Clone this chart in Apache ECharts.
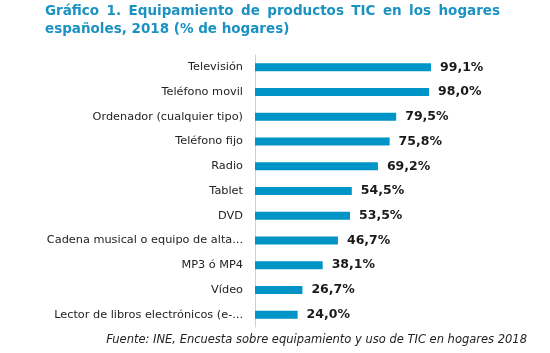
<!DOCTYPE html>
<html>
<head>
<meta charset="utf-8">
<script src="https://cdn.jsdelivr.net/npm/echarts@6/dist/echarts.min.js"></script>
<style>
html,body{margin:0;padding:0;background:#fff;}
#main{width:550px;height:353px;}
</style>
</head>
<body>
<div id="main"></div>
<script>
// datos
var categorias = ['Televisión', 'Teléfono movil', 'Ordenador (cualquier tipo)', 'Teléfono fijo', 'Radio',
    'Tablet', 'DVD', 'Cadena musical o equipo de alta...', 'MP3 ó MP4', 'Vídeo', 'Lector de libros electrónicos (e-...'];
var valores = [99.1, 98.0, 79.5, 75.8, 69.2, 54.5, 53.5, 46.7, 38.1, 26.7, 24.0];

var titulo1 = 'Gráfico 1. Equipamiento de productos TIC en los hogares';
var titulo2 = 'españoles, 2018 (% de hogares)';
var fuente = 'Fuente: INE, Encuesta sobre equipamiento y uso de TIC en hogares 2018';

// primera linea del titulo justificada (45 -> 500)
var fontTitulo = 'bold 13.5px "DejaVu Sans"';
var ctx = document.createElement('canvas').getContext('2d');
ctx.font = fontTitulo;
var palabras = titulo1.split(' ');
var anchoTotal = 0;
palabras.forEach(function (w) { anchoTotal += ctx.measureText(w).width; });
var hueco = (455 - anchoTotal) / (palabras.length - 1);
var graficos = [];
var x = 45;
palabras.forEach(function (w) {
    graficos.push({
        type: 'text', left: x, top: 4,
        style: {text: w, font: fontTitulo, fill: '#1b92c2'}
    });
    x += ctx.measureText(w).width + hueco;
});

var myChart = echarts.init(document.getElementById('main'));
var option = {
    backgroundColor: '#fff',
    animation: false,
    graphic: graficos,
    title: [{
        text: titulo2,
        left: 45,
        top: 22,
        padding: 0,
        textStyle: {
            fontFamily: 'DejaVu Sans',
            fontWeight: 'bold',
            fontSize: 13.5,
            color: '#1b92c2'
        }
    }, {
        text: fuente,
        right: 23,
        top: 334,
        padding: 0,
        textStyle: {
            fontFamily: 'DejaVu Sans',
            fontStyle: 'italic',
            fontWeight: 'normal',
            fontSize: 11.5,
            color: '#222'
        }
    }],
    grid: {
        left: 255,
        top: 55,
        width: 177.6,
        height: 272
    },
    xAxis: {
        type: 'value',
        min: 0,
        max: 100,
        show: false
    },
    yAxis: {
        type: 'category',
        inverse: true,
        data: categorias,
        axisLine: {show: true, lineStyle: {color: '#cfcfcf', width: 1}},
        axisTick: {show: false},
        axisLabel: {
            margin: 12,
            fontFamily: 'DejaVu Sans',
            fontSize: 11.3,
            color: '#222'
        }
    },
    series: [{
        type: 'bar',
        data: valores,
        barWidth: 8,
        itemStyle: {color: '#0095c6'},
        label: {
            show: true,
            position: 'right',
            distance: 9,
            fontFamily: 'DejaVu Sans',
            fontWeight: 'bold',
            fontSize: 12.5,
            color: '#1a1a1a',
            formatter: function (p) {
                return p.value.toFixed(1).replace('.', ',') + '%';
            }
        }
    }]
};
myChart.setOption(option);
</script>
</body>
</html>
